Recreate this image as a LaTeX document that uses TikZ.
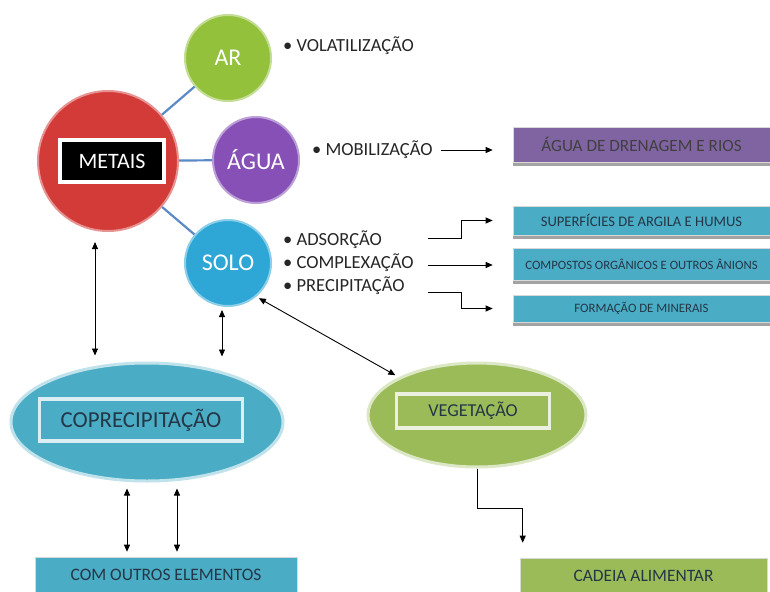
\documentclass[tikz,border=0pt]{standalone}
\usepackage{fontspec}
\setmainfont{Carlito}
\usetikzlibrary{shapes.geometric,shadows,arrows.meta}
\definecolor{metred}{HTML}{D23B38}
\definecolor{argreen}{HTML}{93C13C}
\definecolor{aguapurple}{HTML}{8650B6}
\definecolor{soloblue}{HTML}{2FA7D6}
\definecolor{linkblue}{HTML}{5B8AC6}
\definecolor{boxpurple}{HTML}{8064A2}
\definecolor{boxaqua}{HTML}{4BACC6}
\definecolor{boxgreen}{HTML}{9BBB59}
\definecolor{textdark}{HTML}{243746}

\begin{document}
\begin{tikzpicture}[
    x=1pt, y=-1pt,
    ball/.style={
        circle, fill=#1, draw=#1!55!white, line width=2pt, text=white,
        inner sep=0pt, minimum size=86, font=\fontsize{24}{26}\selectfont
    },
    link/.style={draw=linkblue, line width=2.2pt},
    item/.style={anchor=west, inner sep=0pt, text=black!85, font=\fontsize{18.5}{20}\selectfont},
    tbox/.style={
        rectangle, fill=#1, draw=white!85!black, line width=0.6pt, text=textdark,
        minimum width=257, inner sep=2pt,
        drop shadow={shadow xshift=0pt, shadow yshift=-4pt, fill=black!45, opacity=0.8}
    },
    blob/.style={
        ellipse, fill=#1, draw=#1!35!white, line width=3pt
    },
    label box/.style={
        rectangle, fill=#1, draw=#1!20!white, line width=3.5pt, text=textdark
    },
    arr/.style={-{Triangle[length=7pt,width=6pt]}, line width=0.9pt},
    darr/.style={{Triangle[length=7pt,width=6pt]}-{Triangle[length=7pt,width=6pt]}, line width=0.9pt}
]

\fill[white] (0,0) rectangle (770,591);
\useasboundingbox (0,0) rectangle (770,591);

% metal and the three media
\node[ball=metred, minimum size=140] (metais) at (108,161) {};
\node[rectangle, fill=black, draw=white, line width=3.5pt, text=white,
      minimum width=104, minimum height=42, font=\fontsize{22}{24}\selectfont]
      (metaisbox) at (112,161) {METAIS};

\node[ball=argreen] (ar) at (228,58) {AR};
\node[ball=aguapurple] (agua) at (256,160) {ÁGUA};
\node[ball=soloblue] (solo) at (228,263) {SOLO};

\foreach \m in {ar, agua, solo}
    \draw[link] (metais) -- (\m);

% processes
\node[item] (vol) at (283,46) {• VOLATILIZAÇÃO};
\node[item] (mob) at (312,150) {• MOBILIZAÇÃO};
\foreach \n/\y/\t in {ads/240/ADSORÇÃO, comp/263/COMPLEXAÇÃO, prec/286/PRECIPITAÇÃO}
    \node[item] (\n) at (283,\y) {• \t};

% destinations
\node[tbox=boxpurple, minimum height=35, text=black!75, font=\fontsize{17.2}{19}\selectfont]
    (dren) at (641.5,144.5) {ÁGUA DE DRENAGEM E RIOS};
\node[tbox=boxaqua, minimum height=29, font=\fontsize{14.6}{16}\selectfont]
    (sup) at (641.5,220.5) {SUPERFÍCIES DE ARGILA E HUMUS};
\node[tbox=boxaqua, minimum height=32, font=\fontsize{12.7}{14}\selectfont]
    (org) at (641.5,264) {COMPOSTOS ORGÂNICOS E OUTROS ÂNIONS};
\node[tbox=boxaqua, minimum height=27, font=\fontsize{12.8}{14}\selectfont]
    (form) at (641.5,308.5) {FORMAÇÃO DE MINERAIS};

\draw[arr] ([xshift=8pt]mob.east) -- ([xshift=-20pt]dren.west |- mob.east);
\coordinate (adsS) at (428,238);
\coordinate (compS) at (428,265);
\coordinate (precS) at (428,292);
\draw[arr] (adsS) -- ++(33,0) |- ([xshift=-20pt]sup.west);
\draw[arr] (compS) -- ([xshift=-20pt]org.west |- compS);
\draw[arr] (precS) -- ++(33,0) |- ([xshift=-20pt]form.west);

% lower part
\node[blob=boxaqua, minimum width=272, minimum height=118] (copre) at (147,422) {};
\node[label box=boxaqua, minimum width=203, minimum height=42, font=\fontsize{22.9}{25}\selectfont]
    (coprebox) at (141,420) {COPRECIPITAÇÃO};
\node[blob=boxgreen, minimum width=218, minimum height=104] (veg) at (477,415) {};
\node[label box=boxgreen, minimum width=153, minimum height=34, font=\fontsize{18.2}{20}\selectfont]
    (vegbox) at (473,411) {VEGETAÇÃO};

\node[tbox=boxaqua, minimum width=262, minimum height=36, font=\fontsize{17.5}{19}\selectfont]
    (outros) at (166,575) {COM OUTROS ELEMENTOS};
\node[tbox=boxgreen, minimum width=247, minimum height=36, font=\fontsize{17.4}{19}\selectfont]
    (cadeia) at (643.5,576) {CADEIA ALIMENTAR};

\draw[darr, shorten <=10pt, shorten >=6pt]
    ([xshift=-13pt]metais.south) -- ([xshift=-13pt]metais.south |- copre.north);
\draw[darr, shorten <=3pt, shorten >=5pt]
    ([xshift=-6pt]solo.south) -- ([xshift=-6pt]solo.south |- copre.north);
\draw[darr, shorten <=3pt, shorten >=4pt] (solo.-50) -- (veg.north west);
\draw[arr] (veg.south) -- ++(0,40) -| ([xshift=3pt,yshift=15pt]cadeia.north west);
\draw[darr, shorten <=6pt, shorten >=5pt]
    ([xshift=-20pt]copre.south) -- ([xshift=-20pt]copre.south |- outros.north);
\draw[darr, shorten <=6pt, shorten >=5pt]
    ([xshift=30pt]copre.south) -- ([xshift=30pt]copre.south |- outros.north);

\end{tikzpicture}
\end{document}
